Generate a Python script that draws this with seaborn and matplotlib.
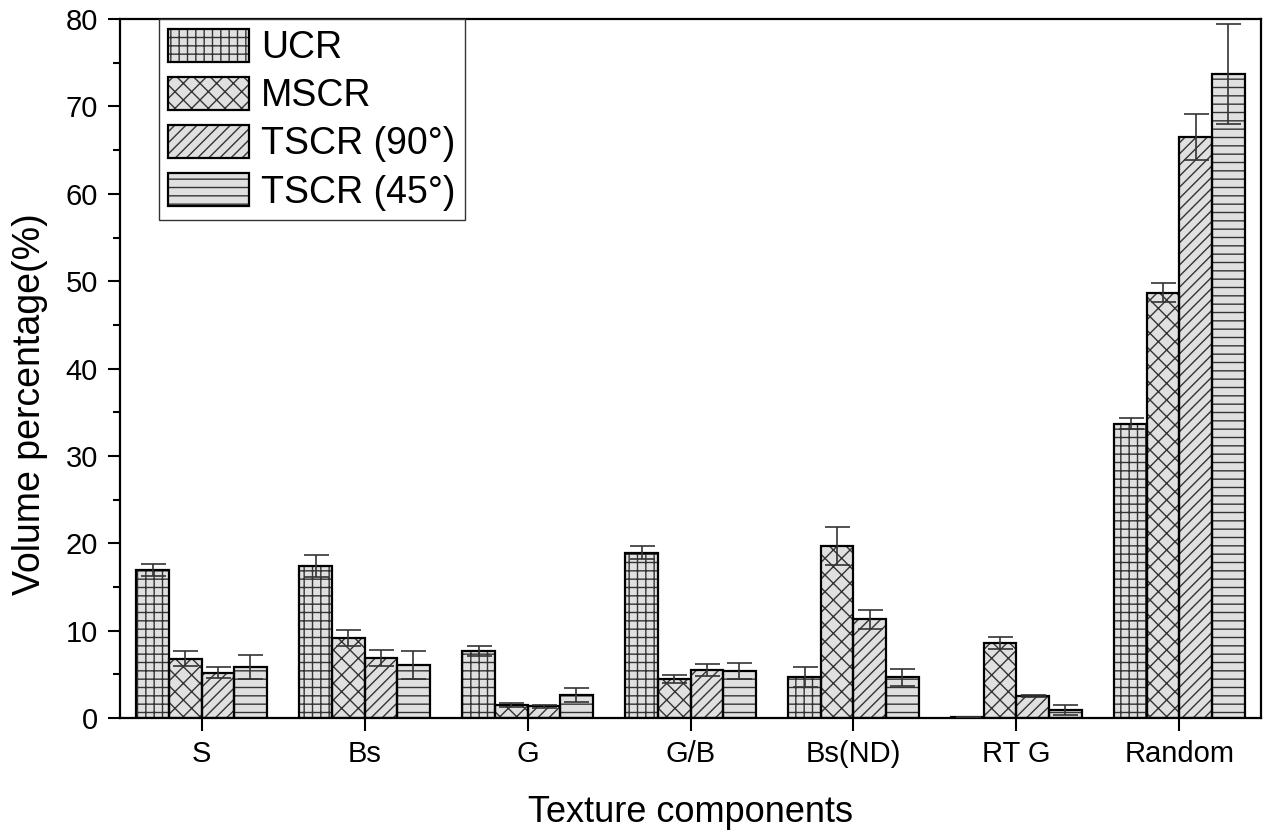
import matplotlib
matplotlib.use("Agg")
import matplotlib.pyplot as plt
from matplotlib.patches import Patch, Rectangle
from matplotlib.legend_handler import HandlerTuple
from matplotlib.ticker import MultipleLocator
import numpy as np
import pandas as pd
import seaborn as sns

# Texture component volume fractions (%) with standard deviations
components = ["S", "Bs", "G", "G/B", "Bs(ND)", "RT G", "Random"]
conditions = ["UCR", "MSCR", "TSCR (90°)", "TSCR (45°)"]

ucr = [16.9, 17.4, 7.7, 18.9, 4.7, 0.1, 33.7]
ucr_err = [0.7, 1.3, 0.6, 0.75, 1.1, 0.0, 0.6]
mscr = [6.8, 9.2, 1.5, 4.5, 19.7, 8.6, 48.7]
mscr_err = [0.9, 0.9, 0.25, 0.45, 2.2, 0.7, 1.05]
tscr90 = [5.2, 6.9, 1.35, 5.5, 11.3, 2.55, 66.5]
tscr90_err = [0.6, 0.9, 0.15, 0.7, 1.1, 0.1, 2.65]
tscr45 = [5.85, 6.1, 2.6, 5.4, 4.65, 0.9, 73.7]
tscr45_err = [1.4, 1.6, 0.8, 0.9, 1.0, 0.6, 5.7]

series = [ucr, mscr, tscr90, tscr45]
errors = [ucr_err, mscr_err, tscr90_err, tscr45_err]
hatches = ["++", "xx", "///", "--"]

fill = "#e0e0e0"
hatch_ink = "#333333"

sns.set_theme(style="ticks")
plt.rcParams["font.family"] = ["Liberation Sans", "DejaVu Sans"]
plt.rcParams["hatch.linewidth"] = 1.0
plt.rcParams["text.color"] = "black"
plt.rcParams["axes.labelcolor"] = "black"
plt.rcParams["xtick.color"] = "black"
plt.rcParams["ytick.color"] = "black"

df = pd.DataFrame({
    "component": np.tile(components, len(conditions)),
    "condition": np.repeat(conditions, len(components)),
    "value": np.concatenate(series),
})

fig = plt.figure(figsize=(12.65, 8.32), dpi=100)
ax = fig.add_axes([0.0949, 0.137, 0.9019, 0.840])

sns.barplot(data=df, x="component", y="value", hue="condition",
            order=components, hue_order=conditions,
            palette=[fill] * len(conditions), errorbar=None,
            width=0.8, gap=0, legend=False, ax=ax,
            edgecolor=hatch_ink, linewidth=0.0)

for container, hatch, err in zip(ax.containers, hatches, errors):
    xs, ys = [], []
    for bar in container:
        bar.set_hatch(hatch)
        bar.set_edgecolor(hatch_ink)
        bar.set_linewidth(0.0)
        ax.add_patch(Rectangle(bar.get_xy(), bar.get_width(), bar.get_height(),
                               fill=False, edgecolor="black", linewidth=1.6,
                               zorder=bar.get_zorder() + 0.1))
        xs.append(bar.get_x() + bar.get_width() / 2)
        ys.append(bar.get_height())
    ax.errorbar(xs, ys, yerr=err, fmt="none", ecolor="#333333",
                elinewidth=1.2, capsize=9, capthick=1.2, zorder=5)

ax.set_xlim(-0.5, len(components) - 0.5)
ax.set_ylim(0, 80)
ax.yaxis.set_major_locator(MultipleLocator(10))
ax.yaxis.set_minor_locator(MultipleLocator(5))

for side in ["left", "right", "top", "bottom"]:
    ax.spines[side].set_visible(True)
    ax.spines[side].set_linewidth(1.6)
    ax.spines[side].set_color("black")

ax.tick_params(axis="both", which="major", direction="out", length=9,
               width=1.5, colors="black", labelsize=21, pad=7)
ax.tick_params(axis="y", which="minor", direction="out", length=5,
               width=1.5, colors="black")
ax.tick_params(axis="y", which="major", pad=7)
ax.tick_params(top=False, right=False, which="both")

ax.set_xlabel("Texture components", fontsize=26, color="black")
ax.set_ylabel("Volume percentage(%)", fontsize=27, color="black")
ax.xaxis.set_label_coords(0.4996, -0.11)
ax.yaxis.set_label_coords(-0.063, 0.449)

handles = [
    (Patch(facecolor=fill, edgecolor=hatch_ink, linewidth=0.0, hatch=h),
     Patch(facecolor="none", edgecolor="black", linewidth=1.6))
    for h in hatches
]
leg = ax.legend(handles, conditions, loc="upper left",
                bbox_to_anchor=(0.034, 1.0), borderaxespad=0,
                fontsize=27, handlelength=2.15, handleheight=1.0,
                handletextpad=0.33, labelspacing=0.28, borderpad=0.25,
                frameon=True, fancybox=False, framealpha=1,
                edgecolor="#333333", labelcolor="black",
                handler_map={tuple: HandlerTuple(ndivide=1, pad=0)})
leg.get_frame().set_linewidth(1.0)

fig.savefig("out.png", dpi=100)
